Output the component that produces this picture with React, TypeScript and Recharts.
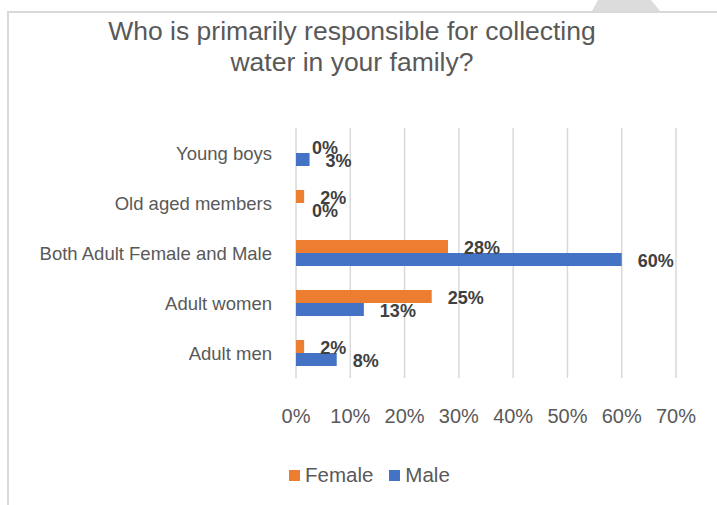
import React from "react";
import { Bar, BarChart, CartesianGrid, LabelList, XAxis, YAxis } from "recharts";

// Survey answers, listed top to bottom as they appear in the chart.
const categories = [
  "Young boys",
  "Old aged members",
  "Both Adult Female and Male",
  "Adult women",
  "Adult men",
];
const femaleValues = [0, 1.5, 28, 25, 1.5];
const maleValues = [2.5, 0, 60, 12.5, 7.5];
const xTicks = [0, 10, 20, 30, 40, 50, 60, 70];

const FONT = '"Liberation Sans", Arial, Helvetica, sans-serif';
const FEMALE = "#ED7D31";
const MALE = "#4472C4";
const TEXT = "#595959";

const data = categories.map((name, i) => ({
  name,
  Female: femaleValues[i],
  Male: maleValues[i],
}));

function ValueLabel(props: any) {
  const x = Number(props.x) + Number(props.width);
  const y = Number(props.y) + Number(props.height) / 2;
  return (
    <text
      x={x + 16}
      y={y + 1}
      dominantBaseline="central"
      fontFamily={FONT}
      fontSize={18}
      fontWeight="bold"
      fill="#404040"
    >
      {Math.round(Number(props.value))}%
    </text>
  );
}

function LegendItem({ color, label }: { color: string; label: string }) {
  return (
    <span style={{ display: "inline-flex", alignItems: "center", marginRight: 16 }}>
      <span style={{ width: 11, height: 11, background: color, display: "inline-block", marginRight: 5 }} />
      <span>{label}</span>
    </span>
  );
}

export default function App() {
  return (
    <div style={{ position: "absolute", left: 0, top: 0, width: 717, height: 505, background: "#fff", fontFamily: FONT, overflow: "hidden" }}>
      {/* chart frame (left and top edges are all that show) */}
      <div
        style={{
          position: "absolute",
          left: 7,
          top: 11,
          width: 730,
          height: 520,
          borderLeft: "2px solid #d9d9d9",
          borderTop: "2px solid #d9d9d9",
        }}
      />
      <svg style={{ position: "absolute", left: 0, top: 0 }} width={717} height={14}>
        <polygon points="598,0 651,0 660,11 592,11" fill="#dcdcdc" />
      </svg>
      <div
        style={{
          position: "absolute",
          left: 0,
          top: 16,
          width: 704,
          textAlign: "center",
          fontSize: 26.5,
          lineHeight: "31px",
          color: TEXT,
        }}
      >
        Who is primarily responsible for collecting
        <br />
        water in your family?
      </div>
      <div style={{ position: "absolute", left: 0, top: 0 }}>
        <BarChart
          width={717}
          height={505}
          data={data}
          layout="vertical"
          barGap={0}
          margin={{ top: 128, right: 41, bottom: 87, left: 0 }}
        >
          <CartesianGrid horizontal={false} stroke="#d9d9d9" strokeWidth={1.5} />
          <XAxis
            type="number"
            domain={[0, 70]}
            ticks={xTicks}
            tickFormatter={(v) => `${v}%`}
            axisLine={false}
            tickLine={false}
            height={40}
            tickMargin={25}
            tick={{ fontSize: 20, fill: TEXT, fontFamily: FONT }}
          />
          <YAxis
            type="category"
            dataKey="name"
            width={296}
            axisLine={false}
            tickLine={false}
            tickMargin={18}
            tick={{ fontSize: 18.5, fill: TEXT, fontFamily: FONT }}
          />
          <Bar dataKey="Female" fill={FEMALE} barSize={13} minPointSize={0.01} isAnimationActive={false}>
            <LabelList dataKey="Female" content={ValueLabel} />
          </Bar>
          <Bar dataKey="Male" fill={MALE} barSize={13} minPointSize={0.01} isAnimationActive={false}>
            <LabelList dataKey="Male" content={ValueLabel} />
          </Bar>
        </BarChart>
      </div>
      <div
        style={{
          position: "absolute",
          left: 289,
          top: 463,
          fontSize: 20.5,
          color: TEXT,
          display: "flex",
          whiteSpace: "nowrap",
        }}
      >
        <LegendItem color={FEMALE} label="Female" />
        <LegendItem color={MALE} label="Male" />
      </div>
    </div>
  );
}
